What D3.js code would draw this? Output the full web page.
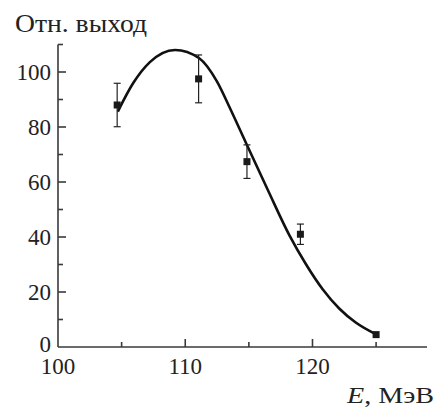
<!DOCTYPE html>
<meta charset="utf-8">
<script src="https://d3js.org/d3.v7.min.js"></script>

<div id="chart"></div>

<style>
body { margin: 0; background: #fff; }
.axis path, .axis line { stroke: #3a3a3a; stroke-width: 1.6; }
</style>

<script>
  // Measured points (energy, relative yield, error)
  var energy = [104.65, 111.05, 114.85, 119.05, 125.0];
  var yieldVal = [88, 97.5, 67.4, 41, 4.5];
  var yieldErr = [7.9, 8.7, 6.1, 3.7, 0];

  // Fitted curve
  var curveE = [104.7, 105.9, 107.2, 109.2, 111.1, 112.5, 113.5, 114.2, 116.5, 118.2, 119.5, 120.8, 122.1, 123.4, 125.0];
  var curveY = [85.6, 95.9, 103.5, 108, 105, 96.5, 87, 80, 57, 40.5, 30, 21, 14, 8.9, 4.6];

  // Ticks
  var xMajor = [110, 120];
  var xMinor = [105, 115, 125];
  var yMajor = [0, 20, 40, 60, 80, 100];
  var yMinor = [10, 30, 50, 70, 90, 110];
  var xTickLabels = [100, 110, 120];

  var serif = "'Liberation Serif', 'Times New Roman', serif";

  var svg = d3.select("#chart")
              .append("svg")
              .attr("width", 439)
              .attr("height", 408);

  var x = d3.scaleLinear().domain([100, 129]).range([58, 427]);
  var y = d3.scaleLinear().domain([0, 110]).range([347, 44.5]);

  // Axes
  var gx = svg.append("g").attr("class", "axis");
  gx.append("path").attr("d", "M" + x(100) + "," + y(0) + "H" + x(129));
  gx.selectAll(".maj").data(xMajor).enter().append("line")
    .attr("x1", d => x(d)).attr("x2", d => x(d))
    .attr("y1", y(0)).attr("y2", y(0) - 8);
  gx.selectAll(".min").data(xMinor).enter().append("line")
    .attr("x1", d => x(d)).attr("x2", d => x(d))
    .attr("y1", y(0)).attr("y2", y(0) - 5);

  var gy = svg.append("g").attr("class", "axis");
  gy.append("path").attr("d", "M" + x(100) + "," + y(0) + "V" + y(110));
  gy.selectAll(".maj").data(yMajor.filter(d => d > 0)).enter().append("line")
    .attr("x1", x(100)).attr("x2", x(100) + 8)
    .attr("y1", d => y(d)).attr("y2", d => y(d));
  gy.selectAll(".min").data(yMinor).enter().append("line")
    .attr("x1", x(100)).attr("x2", x(100) + 5)
    .attr("y1", d => y(d)).attr("y2", d => y(d));

  // Tick labels
  svg.selectAll(".xl").data(xTickLabels).enter().append("text")
     .attr("x", d => x(d)).attr("y", 374)
     .attr("text-anchor", "middle")
     .style("font-family", serif).style("font-size", "23px").style("fill", "#222")
     .text(d => d);

  svg.selectAll(".yl").data(yMajor).enter().append("text")
     .attr("x", 51).attr("y", d => y(d) - (d === 0 ? 3 : 0))
     .attr("dy", "0.33em")
     .attr("text-anchor", "end")
     .style("font-family", serif).style("font-size", "23px").style("fill", "#222")
     .text(d => d);

  // Titles
  svg.append("text")
     .attr("x", 15).attr("y", 32)
     .attr("textLength", 132).attr("lengthAdjust", "spacingAndGlyphs")
     .style("font-family", serif).style("font-size", "25px").style("fill", "#222")
     .text("Отн. выход");

  var xl = svg.append("text")
     .attr("x", 347).attr("y", 403)
     .attr("textLength", 87).attr("lengthAdjust", "spacingAndGlyphs")
     .style("font-family", serif).style("font-size", "24px").style("fill", "#222");
  xl.append("tspan").style("font-style", "italic").text("E");
  xl.append("tspan").text(", МэВ");

  // Curve
  var line = d3.line()
               .x(d => x(d[0]))
               .y(d => y(d[1]))
               .curve(d3.curveMonotoneX);
  svg.append("path")
     .datum(d3.zip(curveE, curveY))
     .attr("d", line)
     .attr("fill", "none")
     .attr("stroke", "#111")
     .attr("stroke-width", 2.6);

  // Error bars
  var pts = d3.range(energy.length).map(i => ({ e: energy[i], v: yieldVal[i], err: yieldErr[i] }));
  var eb = svg.selectAll(".eb").data(pts.filter(d => d.err > 0)).enter().append("g")
              .attr("stroke", "#222").attr("stroke-width", 1.2);
  eb.append("line")
    .attr("x1", d => x(d.e)).attr("x2", d => x(d.e))
    .attr("y1", d => y(d.v + d.err)).attr("y2", d => y(d.v - d.err));
  eb.append("line")
    .attr("x1", d => x(d.e) - 3.5).attr("x2", d => x(d.e) + 3.5)
    .attr("y1", d => y(d.v + d.err)).attr("y2", d => y(d.v + d.err));
  eb.append("line")
    .attr("x1", d => x(d.e) - 3.5).attr("x2", d => x(d.e) + 3.5)
    .attr("y1", d => y(d.v - d.err)).attr("y2", d => y(d.v - d.err));

  // Markers
  svg.selectAll(".pt").data(pts).enter().append("rect")
     .attr("x", d => x(d.e) - 3.5).attr("y", d => y(d.v) - 3.5)
     .attr("width", 7).attr("height", 7)
     .attr("fill", "#1a1a1a");
</script>
